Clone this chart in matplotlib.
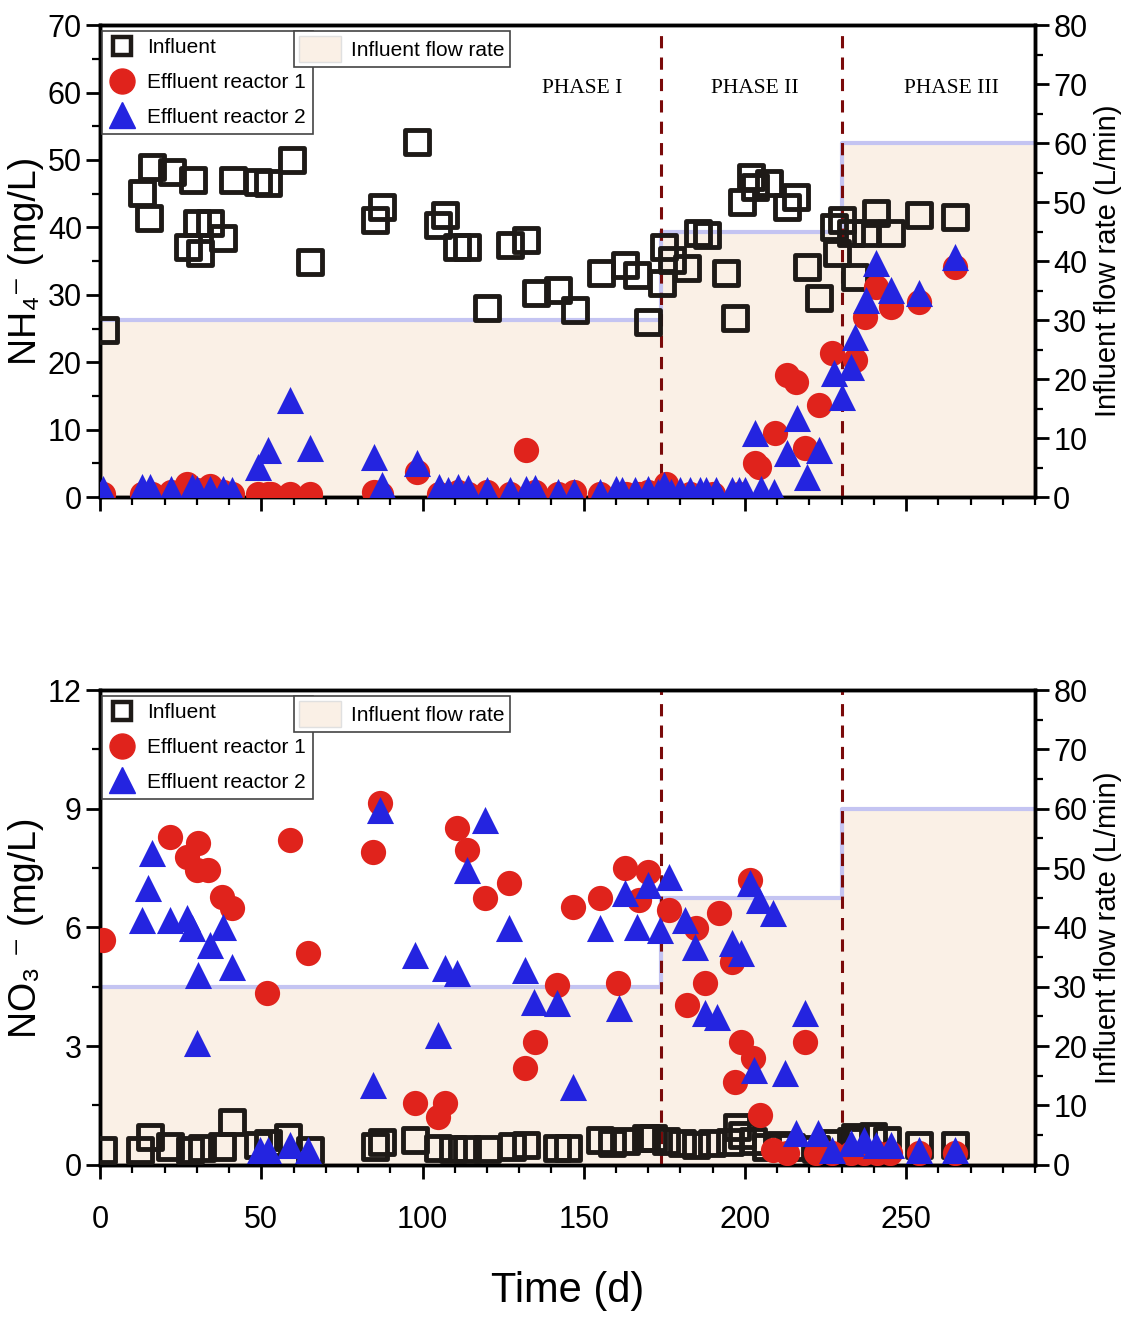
import matplotlib
matplotlib.use("Agg")
import matplotlib.pyplot as plt
import numpy as np
from matplotlib.lines import Line2D
from matplotlib.patches import Patch
from matplotlib.ticker import MultipleLocator

SANS = ['Liberation Sans', 'DejaVu Sans']
SERIF = ['Liberation Serif', 'DejaVu Serif']

RED = '#e0231c'
BLUE = '#2424e0'
SQ = '#1e1a17'
FILL = '#faf0e6'
FLOW_LINE = '#c4c4f2'
DASH = '#7a0a0a'

# influent flow rate (L/min), step per phase
flow_days = [0, 174, 230, 290]
flow_rate = [30, 45, 60, 60]
phase_bounds = [174, 230]

# ---- NH4 panel ----
nh4_inf_day = [1.5, 13, 15.2, 16.1, 22.3, 27.3, 28.8, 30, 31, 34, 38.2, 41.3, 49, 52.1,
               59.5, 65.1, 85.3, 87.5, 98.3, 104.8, 107, 110.7, 113.8, 120, 127.2, 132.1,
               135.2, 142.1, 147.3, 155.4, 162.8, 166.6, 170, 174.3, 175, 177.4, 182,
               185.5, 188.3, 194.2, 197, 199.1, 201.9, 203.2, 207.5, 213.1, 215.9, 219.3,
               223, 227.7, 228.6, 230.1, 232.9, 234.2, 237.6, 240.7, 245.3, 254, 265.2]
nh4_inf_val = [24.8, 45.1, 41.4, 48.9, 48.2, 37.1, 47, 40.6, 36.2, 40.6, 38.4, 47, 46.7, 46.6,
               50, 34.9, 41.1, 43, 52.6, 40.3, 41.8, 37.1, 37.1, 28, 37.4, 38.1,
               30.3, 30.7, 27.7, 33.2, 34.4, 32.9, 26, 31.7, 37.1, 35.1, 34,
               39.2, 38.9, 33.2, 26.5, 43.7, 47.5, 46, 46.6, 43, 44.5, 34.1,
               29.5, 40, 36.2, 41.1, 39.2, 32.6, 39.2, 42.1, 39.2, 41.8, 41.5]

nh4_r1_day = [1, 13, 16, 22, 27, 30, 34, 38, 41, 49, 52, 53, 59, 65, 85, 87, 98.3, 105, 111,
              114, 120, 127, 132, 135, 142, 147, 155, 163, 167, 170, 175.6, 178, 183, 190,
              198, 203, 204.5, 209.4, 213.1, 215.9, 218.7, 223, 227, 234.2, 237.3, 240.7,
              245.3, 254, 265.2]
nh4_r1_val = [0.5, 0.5, 0.5, 0.8, 2.0, 1.0, 1.6, 0.8, 0.5, 0.5, 0.5, 0.5, 0.5, 0.5, 0.8, 0.5,
              3.7, 0.5, 0.8, 0.5, 0.8, 0.5, 7.0, 0.8, 0.5, 0.8, 0.5, 0.5, 0.5, 0.8, 2.0, 0.5,
              0.5, 0.5, 0.5, 5.0, 4.5, 9.5, 18.1, 17.1, 7.3, 13.6, 21.4, 20.3, 26.7, 31.1,
              28.2, 28.9, 34.1]

nh4_r2_day = [1, 13, 15.5, 22, 28.5, 30, 34, 38, 41, 49, 52, 59, 65, 85, 87.5, 98.3, 105, 108,
              111, 114, 120, 127, 132, 135, 142, 147, 155, 160, 162, 166, 170, 173, 175,
              177, 180, 183, 186, 188, 191, 196, 198, 200, 203.2, 205, 209, 213.1, 216.2,
              219.3, 223, 227.7, 230.1, 232.9, 234.2, 237.6, 240.7, 245.3, 254, 265.2]
nh4_r2_val = [1.2, 1.5, 1.5, 1.2, 1.5, 1.2, 1.2, 1.2, 1.0, 4.4, 7.0, 14.4, 7.3, 5.9, 1.8, 5.0,
              1.5, 1.0, 1.5, 1.3, 1.0, 1.0, 1.2, 1.3, 0.8, 0.8, 0.8, 1.2, 1.0, 1.0, 1.2, 0.8,
              1.8, 0.8, 1.0, 1.0, 1.0, 1.0, 1.0, 1.0, 1.0, 1.0, 9.5, 1.2, 0.8, 6.5, 11.7,
              3.0, 7.0, 18.4, 14.8, 19.3, 23.7, 29.2, 34.7, 30.7, 30.3, 35.6]

# ---- NO3 panel ----
no3_inf_day = [1, 12.4, 15.5, 21.7, 27.9, 31.5, 37.8, 40.9, 49, 52, 58.3, 65, 85.3, 87.5,
               97.7, 104.8, 109.5, 113.8, 120, 127.8, 132.1, 141.7, 145, 155, 158.8, 163,
               169.4, 171.5, 175.6, 180.5, 184.8, 189.8, 195.4, 197.6, 199.1, 202.5, 206.6,
               210.9, 214.3, 222, 228, 233, 234, 239.8, 244, 254, 265.2]
no3_inf_val = [0.38, 0.38, 0.71, 0.46, 0.38, 0.42, 0.46, 1.09, 0.5, 0.55, 0.71, 0.38, 0.46,
               0.58, 0.63, 0.42, 0.4, 0.4, 0.4, 0.46, 0.5, 0.42, 0.42, 0.63, 0.55, 0.6,
               0.68, 0.68, 0.6, 0.55, 0.5, 0.55, 0.58, 0.96, 0.75, 0.6, 0.45,
               0.5, 0.45, 0.4, 0.55, 0.6, 0.7, 0.72, 0.62, 0.5, 0.5]

no3_r1_day = [1, 21.7, 27, 30.4, 30, 33.5, 37.8, 40.9, 51.8, 58.9, 64.5, 84.7, 86.8, 97.7,
              104.8, 107, 110.7, 113.8, 119.4, 126.9, 131.8, 134.9, 141.7, 146.7, 155.1,
              160.7, 162.8, 167.2, 170, 176.5, 182.1, 184.9, 187.7, 192, 196, 197, 198.8,
              201.6, 202.5, 204.7, 208.8, 213.1, 218.7, 222, 227, 233, 237, 241, 245, 254, 265]
no3_r1_val = [5.68, 8.29, 7.78, 8.13, 7.45, 7.45, 6.77, 6.49, 4.35, 8.21, 5.36, 7.91, 9.15,
              1.57, 1.21, 1.57, 8.51, 7.96, 6.75, 7.12, 2.45, 3.11, 4.55, 6.52, 6.75,
              4.6, 7.5, 6.7, 7.4, 6.44, 4.04, 5.99, 4.6, 6.37, 5.13, 2.1, 3.11,
              7.2, 2.7, 1.26, 0.38, 0.3, 3.11, 0.3, 0.3, 0.3, 0.3, 0.3, 0.3, 0.3, 0.3]

no3_r2_day = [13, 14.9, 16.1, 21.7, 27, 28.5, 30.4, 30, 34.1, 38.1, 40.9, 49.6, 52.1, 58.9,
              64.5, 84.7, 86.8, 97.7, 104.8, 107, 110.7, 113.8, 119.4, 126.9, 131.8, 134.6,
              141.7, 146.7, 155.1, 161, 162.8, 166.6, 170, 173.7, 176.5, 181.4, 184.6,
              187.7, 191.4, 196, 198.8, 201.6, 202.8, 204.4, 208.8, 212.5, 215.9, 218.7,
              222.7, 227, 232.9, 237, 240.7, 245.3, 254, 265.2]
no3_r2_val = [6.19, 7.0, 7.88, 6.19, 6.24, 5.99, 4.8, 3.08, 5.56, 6.01, 5.0, 0.38, 0.38, 0.5,
              0.38, 2.02, 8.97, 5.31, 3.28, 4.98, 4.85, 7.45, 8.72, 5.99, 4.93, 4.12,
              4.09, 1.97, 5.99, 3.97, 6.87, 6.01, 7.07, 5.94, 7.28, 6.19, 5.51,
              3.84, 3.74, 5.61, 5.36, 7.12, 2.4, 6.7, 6.37, 2.32, 0.8, 3.84,
              0.8, 0.38, 0.55, 0.63, 0.5, 0.5, 0.38, 0.38]


def draw_panel(ax, inf_d, inf_v, r1_d, r1_v, r2_d, r2_v, ylim, ymaj, ymin, ylabel):
    ax2 = ax.twinx()
    ax2.fill_between(flow_days, flow_rate, step='post', color=FILL, lw=0)
    ax2.step(flow_days, flow_rate, where='post', color=FLOW_LINE, lw=3)
    ax2.set_ylim(0, 80)
    ax2.yaxis.set_major_locator(MultipleLocator(10))
    ax2.yaxis.set_minor_locator(MultipleLocator(5))
    ax2.set_ylabel('Influent flow rate (L/min)', family=SANS, fontsize=21, labelpad=5)
    ax.set_zorder(ax2.get_zorder() + 1)
    ax.patch.set_visible(False)

    for b in phase_bounds:
        ax.axvline(b, color=DASH, ls=(0, (4, 3)), lw=2.2, zorder=1)

    ax.scatter(inf_d, inf_v, marker='s', s=300, facecolors='none', edgecolors=SQ,
               linewidths=3.5, zorder=3)
    ax.scatter(r1_d, r1_v, marker='o', s=330, color=RED, lw=0, zorder=4)
    ax.scatter(r2_d, r2_v, marker='^', s=380, color=BLUE, lw=0, zorder=5)

    ax.set_xlim(0, 290)
    ax.set_ylim(*ylim)
    ax.xaxis.set_major_locator(MultipleLocator(50))
    ax.xaxis.set_minor_locator(MultipleLocator(10))
    ax.yaxis.set_major_locator(MultipleLocator(ymaj))
    ax.yaxis.set_minor_locator(MultipleLocator(ymin))
    ax.set_ylabel(ylabel, family=SANS, fontsize=27, labelpad=3)

    for a in (ax, ax2):
        a.tick_params(which='major', direction='out', length=10, width=2, labelsize=22, pad=3)
        a.tick_params(which='minor', direction='out', length=6, width=1.6)
        for sp in a.spines.values():
            sp.set_linewidth(2.5)
        for lab in a.get_yticklabels():
            lab.set_family(SANS)
    for lab in ax.get_xticklabels():
        lab.set_family(SANS)

    h1 = [Line2D([], [], marker='s', ls='none', mfc='none', mec=SQ, mew=3.2, ms=13),
          Line2D([], [], marker='o', ls='none', color=RED, ms=18),
          Line2D([], [], marker='^', ls='none', color=BLUE, ms=19)]
    leg1 = ax.legend(h1, ['Influent', 'Effluent reactor 1', 'Effluent reactor 2'],
                     loc='upper left', bbox_to_anchor=(0.0, 0.992), fancybox=False,
                     edgecolor='#444444', framealpha=1, prop={'family': SANS, 'size': 15},
                     handlelength=1.2, handletextpad=0.6, labelspacing=0.75,
                     borderpad=0.35, borderaxespad=0.1)
    leg1.get_frame().set_linewidth(1.2)
    ax.add_artist(leg1)
    leg2 = ax.legend([Patch(facecolor=FILL, edgecolor='#e0e0e0')], ['Influent flow rate'],
                     loc='upper left', bbox_to_anchor=(0.205, 0.992), fancybox=False,
                     edgecolor='#444444', framealpha=1, prop={'family': SANS, 'size': 15},
                     handlelength=2.0, handleheight=1.5, handletextpad=0.5,
                     borderpad=0.25, borderaxespad=0.1)
    leg2.get_frame().set_linewidth(1.2)
    return ax2


fig = plt.figure(figsize=(11.28, 13.22), dpi=100)
ax_top = fig.add_axes([0.0887, 0.624, 0.829, 0.357])
ax_bot = fig.add_axes([0.0887, 0.119, 0.829, 0.359])

draw_panel(ax_top, nh4_inf_day, nh4_inf_val, nh4_r1_day, nh4_r1_val, nh4_r2_day, nh4_r2_val,
           (0, 70), 10, 5, 'NH₄⁻ (mg/L)')
ax_top.tick_params(axis='x', labelbottom=False)
for txt, xd in [('PHASE I', 149.5), ('PHASE II', 203), ('PHASE III', 264)]:
    ax_top.text(xd, 60.6, txt, family=SERIF, fontsize=15.5, ha='center', va='center', zorder=6)

draw_panel(ax_bot, no3_inf_day, no3_inf_val, no3_r1_day, no3_r1_val, no3_r2_day, no3_r2_val,
           (0, 12), 3, 1.5, 'NO₃ ⁻ (mg/L)')
ax_bot.tick_params(axis='x', pad=19)
ax_bot.set_xlabel('Time (d)', family=SANS, fontsize=30, labelpad=26)

fig.savefig('out.png', dpi=100)
plt.close(fig)
